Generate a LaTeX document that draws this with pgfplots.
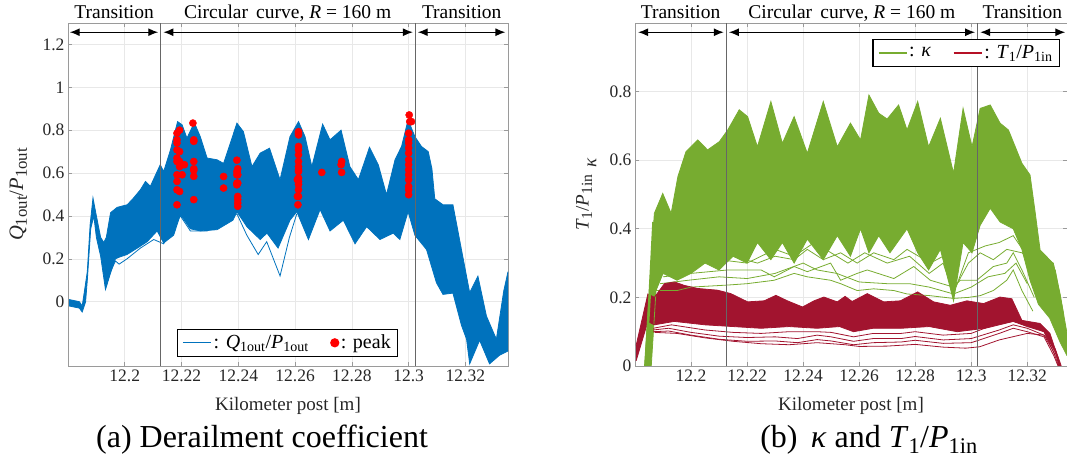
\documentclass[border=0pt]{standalone}
\usepackage{fontspec}
\setmainfont{Liberation Serif}
\usepackage{pgfplots}
\pgfplotsset{compat=1.18}
\usepgfplotslibrary{fillbetween}
\usetikzlibrary{arrows.meta}

\definecolor{mblue}{HTML}{0072BD}
\definecolor{mgreen}{HTML}{77AC30}
\definecolor{mred}{HTML}{A2142F}
\definecolor{tickgray}{HTML}{262626}
\definecolor{framegray}{HTML}{9A9A9A}

\makeatletter
\newcommand{\bigsub}[1]{\raisebox{-0.4ex}{\fontsize{\the\dimexpr0.82\dimexpr\f@size pt\relax\relax}{0pt}\selectfont #1}}
\makeatother

\tikzset{
  arr/.style={{Latex[length=10bp,width=8bp]}-{Latex[length=10bp,width=8bp]}, line width=1.3bp, black},
  toplab/.style={anchor=base, yshift=4bp, font=\fontsize{19.5bp}{22bp}\selectfont, text=black},
}
\pgfplotsset{
  shortline/.style={legend image code/.code={\draw[##1] (0bp,0bp) -- (28bp,0bp);}},
  myaxis/.style={
    scale only axis,
    height=343bp,
    xmin=12.18,
    axis line style={framegray, line width=0.8bp},
    tick style={framegray, line width=0.6bp},
    major tick length=4bp,
    tick align=inside,
    grid=major,
    grid style={black!9, line width=0.6bp},
    xtick={12.2,12.22,12.24,12.26,12.28,12.3,12.32},
    xticklabels={12.2,12.22,12.24,12.26,12.28,12.3,12.32},
    ticklabel style={font=\fontsize{17.5bp}{20bp}\selectfont, text=tickgray},
    /pgf/number format/assume math mode=true,
    label style={font=\fontsize{19bp}{22bp}\selectfont, text=tickgray},
    xlabel={Kilometer post [m]},
    xlabel style={at={(axis description cs:0.5,-0.117)}, anchor=center},
    clip mode=individual,
    legend style={font=\fontsize{20bp}{23bp}\selectfont, draw=black, line width=1.2bp,
      inner xsep=5bp, inner ysep=4bp, cells={anchor=west},
      /tikz/every even column/.append style={column sep=20bp}},
  },
}

\begin{document}
\begin{tikzpicture}

% ================= (a) =================
\begin{axis}[myaxis,
  at={(68bp,101bp)}, anchor=south west,
  width=440bp,
  xmax=12.335, ymin=-0.3, ymax=1.3,
  ytick={0,0.2,0.4,0.6,0.8,1,1.2},
  ylabel={\textit{Q}\bigsub{1out}/\textit{P}\bigsub{1out}},
  ylabel style={at={(axis description cs:-0.113,0.5)}, anchor=center, font=\fontsize{20.5bp}{23bp}\selectfont},
  legend columns=2,
  legend style={at={(0.499,0.026)}, anchor=south},
]
\addplot[mblue, line width=0.8bp, name path=u1, forget plot] coordinates {
(12.1804,0.01) (12.1840,0.0) (12.1850,-0.02) (12.1858,0.05) (12.1868,0.14) (12.1878,0.36)
(12.1888,0.484) (12.1900,0.40) (12.1915,0.30) (12.1926,0.276) (12.1935,0.30) (12.1950,0.415)
(12.1973,0.44) (12.2008,0.452) (12.2026,0.476) (12.2055,0.522) (12.2073,0.561) (12.2090,0.538)
(12.2125,0.639) (12.2137,0.607) (12.2161,0.708) (12.2186,0.84) (12.2202,0.825) (12.2219,0.763)
(12.2245,0.835) (12.2266,0.77) (12.2290,0.67) (12.2325,0.662) (12.2348,0.645) (12.2372,0.74)
(12.2395,0.833) (12.2418,0.793) (12.2448,0.63) (12.2477,0.693) (12.2510,0.716) (12.2524,0.66)
(12.2547,0.569) (12.2582,0.77) (12.2612,0.84) (12.2635,0.77) (12.2659,0.63) (12.2697,0.828)
(12.2723,0.755) (12.2762,0.80) (12.2793,0.63) (12.2823,0.569) (12.2862,0.72) (12.2893,0.639)
(12.2922,0.499) (12.2952,0.662) (12.2975,0.724) (12.2998,0.848) (12.3022,0.77) (12.3045,0.724)
(12.3069,0.70) (12.3082,0.62) (12.3092,0.48) (12.3121,0.452) (12.3156,0.452) (12.3186,0.243)
(12.3215,0.042) (12.3244,0.119) (12.3274,-0.067) (12.3309,-0.175) (12.3335,0.05) (12.3350,0.14)
};
\addplot[mblue, line width=0.8bp, name path=l1, forget plot] coordinates {
(12.1804,-0.02) (12.1840,-0.03) (12.1850,-0.048) (12.1862,0.0) (12.1868,0.10) (12.1880,0.34)
(12.1891,0.40) (12.1900,0.30) (12.1915,0.212) (12.1932,0.057) (12.1950,0.135) (12.1967,0.20)
(12.1985,0.21) (12.2008,0.22) (12.2055,0.259) (12.2079,0.28) (12.2114,0.33) (12.2137,0.274)
(12.2172,0.31) (12.2196,0.406) (12.2231,0.34) (12.2266,0.33) (12.2325,0.336) (12.2381,0.38)
(12.2395,0.42) (12.2430,0.35) (12.2477,0.29) (12.2501,0.32) (12.2540,0.25) (12.2582,0.38)
(12.2606,0.42) (12.2647,0.29) (12.2688,0.43) (12.2723,0.33) (12.2770,0.38) (12.2811,0.27)
(12.2852,0.35) (12.2899,0.29) (12.2946,0.32) (12.2969,0.29) (12.2998,0.42) (12.3022,0.31)
(12.3063,0.243) (12.3098,0.088) (12.3121,0.034) (12.3156,0.04) (12.3186,-0.11) (12.3204,-0.175)
(12.3215,-0.29) (12.3250,-0.18) (12.3285,-0.29) (12.3320,-0.25) (12.3350,-0.23)
};
\addplot[mblue, forget plot] fill between[of=u1 and l1];
\addplot[mblue, line width=0.8bp, forget plot] coordinates {
(12.1932,0.06) (12.1950,0.14) (12.1967,0.19) (12.1980,0.175) (12.2008,0.20) (12.2055,0.25)
(12.2102,0.29) (12.2137,0.27) (12.2196,0.40) (12.2231,0.33) (12.2290,0.33) (12.2340,0.36)
(12.2395,0.41) (12.2430,0.31) (12.2470,0.22) (12.2500,0.28) (12.2547,0.12) (12.2580,0.30)
(12.2606,0.41)
};
\addplot[only marks, mark=*, mark size=3.6bp, red, mark options={draw=red, fill=red}, forget plot] coordinates {
(12.2184,0.786) (12.2184,0.755) (12.2184,0.74) (12.2184,0.708) (12.2184,0.67) (12.2184,0.654)
(12.2184,0.592) (12.2184,0.561) (12.2184,0.522) (12.2184,0.452)
(12.2193,0.80) (12.2193,0.70) (12.2193,0.654) (12.2193,0.63) (12.2193,0.514)
(12.2202,0.639) (12.2202,0.592) (12.2210,0.639)
(12.2240,0.833) (12.2243,0.755) (12.2243,0.748) (12.2243,0.654) (12.2243,0.62) (12.2243,0.612)
(12.2243,0.585) (12.2243,0.476)
(12.2348,0.584) (12.2348,0.53)
(12.2395,0.66) (12.2395,0.607) (12.2395,0.592) (12.2395,0.553) (12.2395,0.545)
(12.2398,0.62) (12.2398,0.592) (12.2398,0.553) (12.2398,0.491) (12.2398,0.476) (12.2398,0.46) (12.2398,0.445)
(12.2612,0.793) (12.2612,0.786) (12.2612,0.778) (12.2612,0.724) (12.2612,0.708) (12.2612,0.685)
(12.2612,0.654) (12.2612,0.63) (12.2612,0.615) (12.2612,0.607) (12.2612,0.577) (12.2612,0.561)
(12.2612,0.546) (12.2612,0.522) (12.2612,0.491) (12.2608,0.569) (12.2608,0.491) (12.2610,0.452)
(12.2694,0.603) (12.2764,0.654) (12.2762,0.639) (12.2764,0.603)
(12.3002,0.871) (12.3004,0.84) (12.3010,0.84)
(12.3000,0.786) (12.3000,0.755) (12.3000,0.74) (12.3000,0.717) (12.3000,0.693) (12.3000,0.662)
(12.3000,0.639) (12.3000,0.615) (12.3000,0.592) (12.3000,0.569) (12.3000,0.538) (12.3000,0.522) (12.3000,0.499)
};
\draw[black!60, line width=0.9bp] (axis cs:12.2125,-0.3) -- (axis cs:12.2125,1.3);
\draw[black!60, line width=0.9bp] (axis cs:12.3023,-0.3) -- (axis cs:12.3023,1.3);
\draw[arr] (axis cs:12.1806,1.257) -- (axis cs:12.2118,1.257);
\draw[arr] (axis cs:12.2136,1.257) -- (axis cs:12.3015,1.257);
\draw[arr] (axis cs:12.3032,1.257) -- (axis cs:12.3341,1.257);
\node[toplab] at (axis cs:12.19625,1.3) {Transition};
\node[toplab] at (axis cs:12.2574,1.3) {Circular\, curve, \textit{R} = 160 m};
\node[toplab] at (axis cs:12.3187,1.3) {Transition};
\addlegendimage{mblue, line width=1.2bp, shortline}
\addlegendentry{: \textit{Q}\textsubscript{1out}/\textit{P}\textsubscript{1out}}
\addlegendimage{only marks, mark=*, mark size=4bp, red, mark options={draw=red, fill=red}}
\addlegendentry{: peak}
\end{axis}

% ================= (b) =================
\begin{axis}[myaxis,
  at={(635bp,101bp)}, anchor=south west,
  width=432bp,
  xmax=12.3342, ymin=0, ymax=1,
  ytick={0,0.2,0.4,0.6,0.8},
  ylabel={\textit{T}\bigsub{1}/\textit{P}\bigsub{1in}\hspace{7bp}\raisebox{-0.9ex}{\textit{κ}}},
  ylabel style={at={(axis description cs:-0.113,0.5)}, anchor=center},
  legend columns=2,
  legend style={at={(0.984,0.953)}, anchor=north east},
]
\addplot[mgreen, line width=0.8bp, name path=ug, forget plot] coordinates {
(12.1834,0.0) (12.1869,0.445) (12.1899,0.503) (12.1929,0.445) (12.1953,0.552) (12.1982,0.625)
(12.2024,0.659) (12.2059,0.63) (12.2101,0.654) (12.2131,0.688) (12.2172,0.747) (12.2202,0.727)
(12.2237,0.639) (12.2285,0.771) (12.2326,0.649) (12.2368,0.727) (12.2415,0.62) (12.2472,0.771)
(12.2522,0.639) (12.2569,0.708) (12.2605,0.659) (12.2635,0.79) (12.2670,0.737) (12.2700,0.72)
(12.2741,0.761) (12.2771,0.688) (12.2809,0.771) (12.2848,0.639) (12.2890,0.722) (12.2937,0.562)
(12.2971,0.751) (12.3003,0.639) (12.3032,0.751) (12.3068,0.761) (12.3103,0.708) (12.3133,0.688)
(12.3181,0.591) (12.3210,0.557) (12.3228,0.45) (12.3246,0.338) (12.3293,0.299) (12.3317,0.211)
(12.3342,0.095)
};
\addplot[mgreen, line width=0.8bp, name path=lg, forget plot] coordinates {
(12.1858,0.0) (12.1875,0.22) (12.1900,0.27) (12.1950,0.25) (12.2000,0.27) (12.2050,0.30)
(12.2100,0.28) (12.2150,0.32) (12.2200,0.30) (12.2237,0.36) (12.2285,0.31) (12.2326,0.36)
(12.2368,0.30) (12.2415,0.37) (12.2472,0.31) (12.2522,0.38) (12.2569,0.32) (12.2605,0.40)
(12.2635,0.33) (12.2670,0.38) (12.2710,0.33) (12.2771,0.40) (12.2809,0.33) (12.2848,0.28)
(12.2890,0.34) (12.2937,0.19) (12.2971,0.36) (12.3003,0.33) (12.3032,0.41) (12.3068,0.46)
(12.3103,0.42) (12.3150,0.40) (12.3181,0.34) (12.3210,0.25) (12.3240,0.18) (12.3280,0.14)
(12.3317,0.07) (12.3342,0.03)
};
\addplot[mgreen, forget plot] fill between[of=ug and lg];
\addplot[mgreen, line width=0.8bp, forget plot] coordinates {
(12.1875,0.22) (12.1950,0.22) (12.2000,0.23) (12.2131,0.236) (12.2200,0.24) (12.2297,0.25)
(12.2368,0.27) (12.2415,0.26) (12.2498,0.25) (12.2534,0.24) (12.2593,0.22) (12.2652,0.225)
(12.2724,0.22) (12.2771,0.21) (12.2854,0.205) (12.2937,0.197) (12.2990,0.20) (12.3032,0.205)
(12.3079,0.22) (12.3127,0.25) (12.3150,0.28) (12.3181,0.22) (12.3220,0.16)
};
\addplot[mgreen, line width=0.8bp, forget plot] coordinates {
(12.1890,0.24) (12.1990,0.25) (12.2100,0.26) (12.2200,0.255) (12.2300,0.27) (12.2400,0.30)
(12.2450,0.28) (12.2520,0.27) (12.2600,0.245) (12.2700,0.24) (12.2780,0.24) (12.2850,0.23)
(12.2937,0.21) (12.3000,0.23) (12.3060,0.26) (12.3120,0.27) (12.3160,0.30) (12.3200,0.24)
};
\addplot[mgreen, line width=0.8bp, forget plot] coordinates {
(12.1900,0.26) (12.2000,0.27) (12.2131,0.28) (12.2250,0.28) (12.2297,0.26) (12.2368,0.29)
(12.2415,0.275) (12.2498,0.30) (12.2534,0.25) (12.2593,0.27) (12.2629,0.28) (12.2724,0.255)
(12.2795,0.29) (12.2854,0.25) (12.2937,0.23) (12.2961,0.25) (12.3020,0.25) (12.3079,0.29)
(12.3127,0.30) (12.3150,0.33) (12.3181,0.28) (12.3225,0.20)
};
\addplot[mgreen, line width=0.8bp, forget plot] coordinates {
(12.1900,0.29) (12.2000,0.30) (12.2100,0.31) (12.2200,0.30) (12.2300,0.34) (12.2368,0.32)
(12.2440,0.36) (12.2500,0.33) (12.2560,0.30) (12.2620,0.33) (12.2700,0.30) (12.2780,0.32)
(12.2850,0.27) (12.2900,0.30) (12.2937,0.21) (12.2990,0.33) (12.3050,0.35) (12.3100,0.36)
(12.3150,0.38) (12.3200,0.32) (12.3260,0.30) (12.3300,0.28) (12.3330,0.15)
};
\addplot[mgreen, line width=0.8bp, forget plot] coordinates {
(12.1950,0.30) (12.2050,0.31) (12.2150,0.32) (12.2237,0.30) (12.2300,0.32) (12.2368,0.31)
(12.2415,0.34) (12.2472,0.31) (12.2534,0.33) (12.2593,0.30) (12.2652,0.33) (12.2724,0.31)
(12.2771,0.34) (12.2854,0.30) (12.2900,0.32) (12.2937,0.22) (12.2990,0.30) (12.3032,0.33)
(12.3079,0.31) (12.3127,0.34) (12.3181,0.33) (12.3220,0.30) (12.3293,0.30) (12.3317,0.20)
};
\addplot[mred, line width=0.8bp, name path=ur, forget plot] coordinates {
(12.1804,0.06) (12.1846,0.21) (12.1869,0.20) (12.1905,0.24) (12.1941,0.245) (12.1976,0.235)
(12.2024,0.226) (12.2095,0.221) (12.2142,0.211) (12.2202,0.187) (12.2261,0.19) (12.2303,0.206)
(12.2344,0.19) (12.2398,0.172) (12.2439,0.19) (12.2474,0.201) (12.2522,0.187) (12.2550,0.203)
(12.2575,0.188) (12.2629,0.211) (12.2688,0.187) (12.2747,0.19) (12.2809,0.216) (12.2866,0.187)
(12.2925,0.177) (12.2985,0.19) (12.3044,0.182) (12.3103,0.201) (12.3145,0.196) (12.3181,0.133)
(12.3246,0.124) (12.3281,0.095) (12.3317,0.007) (12.3325,-0.02)
};
\addplot[mred, line width=0.8bp, name path=lr, forget plot] coordinates {
(12.1804,0.015) (12.1846,0.13) (12.1869,0.12) (12.1940,0.13) (12.2050,0.12) (12.2150,0.115)
(12.2250,0.11) (12.2350,0.115) (12.2450,0.11) (12.2530,0.115) (12.2580,0.10) (12.2650,0.11)
(12.2750,0.11) (12.2850,0.115) (12.2950,0.10) (12.3050,0.11) (12.3150,0.13) (12.3200,0.115)
(12.3260,0.10) (12.3300,0.04) (12.3320,-0.02)
};
\addplot[mred, forget plot] fill between[of=ur and lr];
\addplot[mred, line width=0.8bp, forget plot] coordinates {
(12.1865,0.11) (12.1930,0.12) (12.2050,0.105) (12.2150,0.098) (12.2250,0.095) (12.2350,0.10)
(12.2450,0.10) (12.2500,0.098) (12.2580,0.085) (12.2650,0.095) (12.2750,0.095) (12.2800,0.10)
(12.2900,0.09) (12.3000,0.095) (12.3080,0.12) (12.3150,0.13) (12.3200,0.12) (12.3260,0.10) (12.3300,0.03)
};
\addplot[mred, line width=0.8bp, forget plot] coordinates {
(12.1865,0.105) (12.1920,0.11) (12.2000,0.098) (12.2100,0.087) (12.2200,0.083) (12.2300,0.085)
(12.2380,0.08) (12.2450,0.09) (12.2500,0.085) (12.2580,0.072) (12.2650,0.08) (12.2750,0.08)
(12.2800,0.086) (12.2900,0.076) (12.3000,0.08) (12.3100,0.105) (12.3150,0.12) (12.3200,0.11)
(12.3260,0.09) (12.3295,0.04) (12.3320,-0.02)
};
\addplot[mred, line width=0.8bp, forget plot] coordinates {
(12.1865,0.10) (12.1920,0.102) (12.2000,0.09) (12.2100,0.078) (12.2200,0.072) (12.2300,0.073)
(12.2380,0.068) (12.2450,0.077) (12.2500,0.073) (12.2580,0.062) (12.2650,0.068) (12.2750,0.07)
(12.2800,0.075) (12.2900,0.066) (12.3000,0.068) (12.3100,0.095) (12.3150,0.11) (12.3200,0.10)
(12.3260,0.085) (12.3295,0.03) (12.3320,-0.02)
};
\addplot[mred, line width=0.8bp, forget plot] coordinates {
(12.1870,0.098) (12.1950,0.095) (12.2050,0.082) (12.2150,0.072) (12.2250,0.065) (12.2350,0.062)
(12.2450,0.068) (12.2550,0.062) (12.2600,0.057) (12.2700,0.058) (12.2800,0.063) (12.2900,0.055)
(12.2980,0.052) (12.3030,0.056) (12.3100,0.076) (12.3200,0.095) (12.3260,0.09) (12.3300,0.05) (12.3330,-0.02)
};
\addplot[mgreen, line width=2.5bp, forget plot] coordinates {
(12.1838,0.0) (12.1852,0.20) (12.1866,0.42)
};
\draw[black!60, line width=0.9bp] (axis cs:12.2125,0) -- (axis cs:12.2125,1);
\draw[black!60, line width=0.9bp] (axis cs:12.3023,0) -- (axis cs:12.3023,1);
\draw[arr] (axis cs:12.1811,0.973) -- (axis cs:12.2117,0.973);
\draw[arr] (axis cs:12.2135,0.973) -- (axis cs:12.3014,0.973);
\draw[arr] (axis cs:12.3032,0.973) -- (axis cs:12.3336,0.973);
\node[toplab] at (axis cs:12.19625,1) {Transition};
\node[toplab] at (axis cs:12.2574,1) {Circular\, curve, \textit{R} = 160 m};
\node[toplab] at (axis cs:12.3183,1) {Transition};
\addlegendimage{mgreen, line width=1.2bp, shortline}
\addlegendentry{: \textit{κ}}
\addlegendimage{mred!80!red, line width=1.2bp, shortline}
\addlegendentry{: \textit{T}\textsubscript{1}/\textit{P}\textsubscript{1in}}
\end{axis}

\node[font=\fontsize{32bp}{36bp}\selectfont, text=black] at (262bp,27bp) {(a) Derailment coefficient};
\node[font=\fontsize{32bp}{36bp}\selectfont, text=black] at (869bp,27bp) {(b)\,\ \textit{κ} and \textit{T}\textsubscript{1}/\textit{P}\textsubscript{1in}};

\pgfresetboundingbox
\path[use as bounding box] (0,0) rectangle (1067bp,467bp);
\end{tikzpicture}
\end{document}
